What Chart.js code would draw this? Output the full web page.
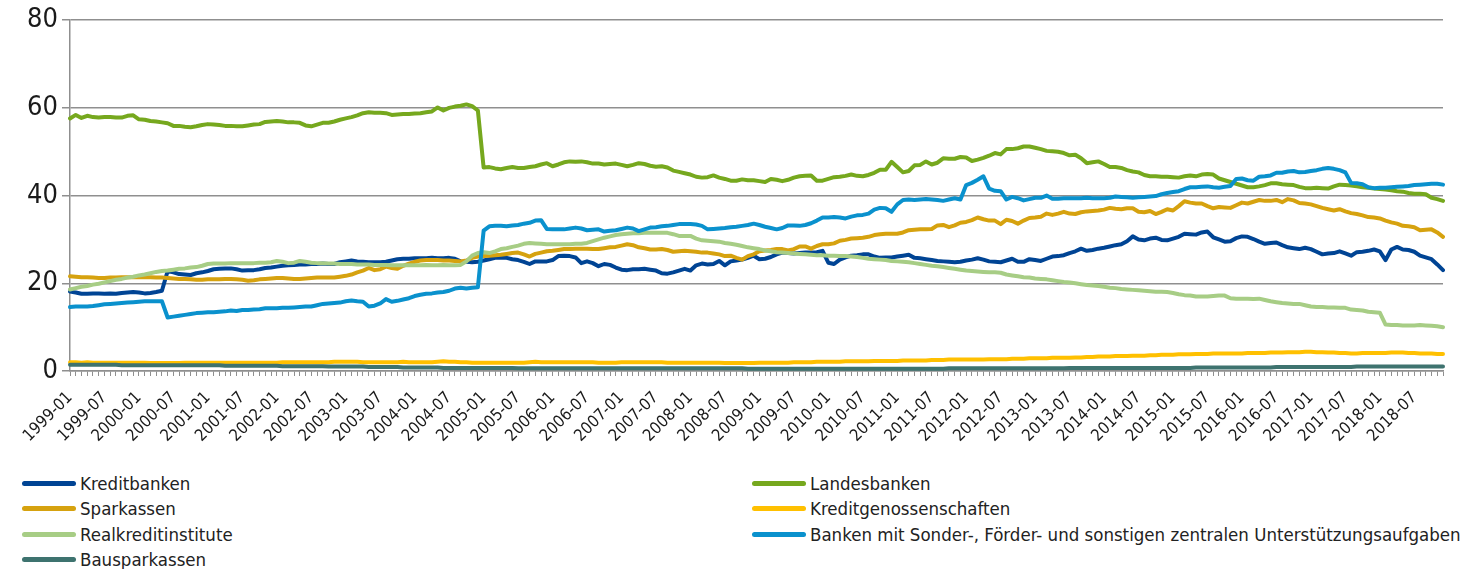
<!DOCTYPE html>
<html lang="de">
<head>
<meta charset="utf-8">
<title>Anteile nach Bankengruppen</title>
<script src="https://cdn.jsdelivr.net/npm/chart.js@4/dist/chart.umd.min.js"></script>
<style>
    html, body { margin: 0; padding: 0; background: #fff; }
    #wrap { position: relative; width: 1472px; height: 569px; }
    #chart { position: absolute; left: 0; top: 0; }
    .legend-item {
        position: absolute;
        display: flex;
        align-items: center;
        height: 24px;
        font-family: "DejaVu Sans Condensed", "Liberation Sans Narrow", "Roboto Condensed", "DejaVu Sans", sans-serif;
        font-size: 18.5px;
        color: #222;
        white-space: nowrap;
    }
    .legend-swatch {
        width: 54px;
        height: 5px;
        border-radius: 3px;
        margin-right: 4px;
    }
</style>
</head>
<body>
<div id="wrap">
    <canvas id="chart" width="1472" height="465"></canvas>
    <div id="legend"></div>
</div>
<script>
// Categories: monthly, 1999-01 .. 2018-12
const years = [1999, 2000, 2001, 2002, 2003, 2004, 2005, 2006, 2007, 2008,
               2009, 2010, 2011, 2012, 2013, 2014, 2015, 2016, 2017, 2018];
const monthNames = ['01', '02', '03', '04', '05', '06', '07', '08', '09', '10', '11', '12'];
const months = [];
years.forEach(y => monthNames.forEach(m => months.push(y + '-' + m)));

// Y axis ticks
const yTicks = [0, 20, 40, 60, 80];

// Series values (%), one row per year
const kreditbanken = [
    18.1,17.9,17.6,17.6,17.7,17.7,17.6,17.7,17.6,17.8,17.9,18.0,
    17.9,17.7,17.8,18.0,18.3,22.8,22.5,22.1,22.0,21.9,22.3,22.5,
    22.8,23.2,23.3,23.4,23.4,23.2,22.9,23.0,23.0,23.2,23.5,23.6,
    23.8,24.0,24.1,24.2,24.3,24.3,24.4,24.4,24.5,24.4,24.4,24.8,
    25.0,25.2,25.0,24.9,24.8,24.8,24.8,24.9,25.2,25.5,25.6,25.6,
    25.7,25.7,25.7,25.8,25.7,25.7,25.8,25.6,25.0,24.9,24.8,24.9,
    25.2,25.5,25.8,25.9,25.8,25.5,25.3,24.9,24.4,25.0,25.0,25.0,
    25.3,26.2,26.3,26.2,25.9,24.6,25.0,24.6,23.9,24.4,24.2,23.6,
    23.1,23.0,23.2,23.2,23.3,23.1,22.9,22.3,22.2,22.5,22.9,23.3,
    22.9,24.1,24.5,24.3,24.4,25.1,24.1,25.0,25.2,25.4,25.8,26.3,
    25.5,25.6,26.0,26.6,27.0,26.9,26.8,26.9,27.0,27.0,27.1,27.4,
    24.7,24.4,25.4,25.9,26.3,26.4,26.6,26.6,26.1,25.8,25.9,25.9,
    26.1,26.3,26.5,25.8,25.7,25.5,25.3,25.1,25.0,24.9,24.8,24.9,
    25.2,25.4,25.7,25.4,25.0,24.9,24.8,25.2,25.6,24.9,24.9,25.5,
    25.3,25.1,25.6,26.1,26.2,26.4,26.9,27.3,27.9,27.4,27.6,27.9,
    28.1,28.4,28.7,28.9,29.6,30.7,30.0,29.8,30.2,30.4,29.9,29.8,
    30.2,30.6,31.3,31.2,31.1,31.6,31.8,30.5,30.0,29.5,29.6,30.3,
    30.7,30.6,30.1,29.5,29.0,29.2,29.3,28.7,28.2,28.0,27.8,28.1,
    27.8,27.2,26.6,26.8,26.9,27.3,26.8,26.3,27.1,27.2,27.4,27.7,
    27.3,25.3,27.7,28.3,27.7,27.6,27.2,26.3,25.9,25.5,24.3,23.0
];

const landesbanken = [
    57.6,58.4,57.7,58.2,57.9,57.8,57.9,57.9,57.8,57.8,58.2,58.3,
    57.4,57.3,57.0,56.9,56.7,56.5,55.9,55.9,55.7,55.6,55.8,56.1,
    56.3,56.2,56.1,55.9,55.9,55.8,55.8,56.0,56.2,56.3,56.8,56.9,
    57.0,56.9,56.7,56.7,56.6,56.0,55.8,56.2,56.6,56.6,56.9,57.3,
    57.6,57.9,58.3,58.8,59.0,58.9,58.9,58.8,58.4,58.5,58.6,58.6,
    58.7,58.8,59.0,59.2,60.1,59.4,60.0,60.3,60.5,60.8,60.4,59.4,
    46.4,46.5,46.2,46.0,46.3,46.5,46.3,46.3,46.5,46.7,47.1,47.4,
    46.7,47.1,47.6,47.8,47.7,47.8,47.6,47.3,47.3,47.1,47.2,47.3,
    47.0,46.7,47.0,47.4,47.2,46.8,46.6,46.7,46.4,45.7,45.4,45.1,
    44.8,44.3,44.1,44.2,44.6,44.1,43.8,43.4,43.4,43.7,43.5,43.5,
    43.3,43.1,43.8,43.6,43.3,43.6,44.1,44.4,44.5,44.6,43.4,43.4,
    43.8,44.2,44.3,44.5,44.8,44.5,44.4,44.7,45.2,45.9,45.9,47.7,
    46.5,45.3,45.6,46.9,47.0,47.8,47.1,47.5,48.5,48.4,48.4,48.8,
    48.7,47.9,48.2,48.6,49.1,49.7,49.4,50.6,50.6,50.8,51.2,51.2,
    50.9,50.6,50.2,50.1,50.0,49.7,49.2,49.3,48.5,47.4,47.6,47.8,
    47.2,46.5,46.5,46.3,45.8,45.5,45.3,44.7,44.4,44.4,44.3,44.3,
    44.2,44.1,44.4,44.6,44.4,44.8,44.9,44.8,43.9,43.5,43.1,42.7,
    42.3,41.9,41.9,42.1,42.4,42.8,42.8,42.6,42.5,42.4,42.0,41.7,
    41.7,41.8,41.7,41.6,42.1,42.5,42.4,42.3,42.1,41.9,41.8,41.6,
    41.5,41.4,41.2,41.0,40.9,40.6,40.4,40.4,40.3,39.5,39.2,38.8
];

const sparkassen = [
    21.6,21.5,21.4,21.4,21.3,21.2,21.2,21.3,21.3,21.4,21.4,21.4,
    21.4,21.4,21.4,21.3,21.3,21.2,21.1,21.0,21.0,20.9,20.8,20.8,
    20.9,20.9,20.9,21.0,21.0,20.9,20.8,20.6,20.7,20.9,21.0,21.1,
    21.2,21.2,21.1,21.0,21.0,21.1,21.2,21.3,21.3,21.3,21.3,21.5,
    21.7,22.0,22.5,22.9,23.5,23.0,23.2,23.8,23.5,23.3,24.0,24.5,
    24.9,25.2,25.3,25.3,25.3,25.2,25.2,25.1,25.0,25.2,25.8,26.1,
    26.2,26.3,26.4,26.5,26.7,26.9,27.0,26.6,26.1,26.7,27.0,27.3,
    27.4,27.6,27.8,27.8,27.9,27.9,27.9,27.8,27.8,28.0,28.2,28.3,
    28.6,28.9,28.7,28.2,28.0,27.7,27.7,27.8,27.6,27.2,27.3,27.4,
    27.3,27.2,27.0,27.0,26.8,26.6,26.2,26.3,25.8,25.4,26.2,26.6,
    27.3,27.5,27.6,27.8,27.8,27.5,27.8,28.4,28.4,27.9,28.5,28.9,
    28.9,29.1,29.7,29.9,30.2,30.3,30.4,30.6,31.0,31.2,31.3,31.3,
    31.3,31.6,32.1,32.2,32.3,32.3,32.4,33.2,33.3,32.8,33.2,33.8,
    34.0,34.4,35.0,34.6,34.3,34.3,33.5,34.5,34.2,33.6,34.3,34.9,
    35.0,35.2,35.9,35.6,35.9,36.3,35.9,35.8,36.2,36.4,36.5,36.6,
    36.8,37.2,37.0,36.9,37.1,37.1,36.3,36.2,36.5,35.8,36.3,36.9,
    36.6,37.6,38.7,38.4,38.2,38.2,37.6,37.1,37.4,37.3,37.2,37.8,
    38.4,38.2,38.6,39.0,38.8,38.8,39.0,38.5,39.2,38.9,38.3,38.2,
    38.0,37.6,37.2,36.9,36.6,36.9,36.4,36.0,35.8,35.5,35.1,35.0,
    34.8,34.3,33.9,33.6,33.1,33.0,32.8,32.1,32.2,32.3,31.6,30.6
];

const kreditgenossenschaften = [
    2.0,2.0,1.9,2.0,1.9,1.9,1.9,1.9,1.9,1.9,1.9,1.9,
    1.9,1.9,1.8,1.8,1.8,1.8,1.8,1.8,1.9,1.9,1.9,1.9,
    1.9,1.9,1.9,1.9,1.9,1.9,1.9,1.9,1.9,1.9,1.9,1.9,
    1.9,2.0,2.0,2.0,2.0,2.0,2.0,2.0,2.0,2.0,2.1,2.1,
    2.1,2.1,2.1,2.0,2.0,2.0,2.0,2.0,2.0,2.0,2.1,2.0,
    2.0,2.0,2.0,2.0,2.1,2.2,2.1,2.1,2.0,2.0,1.9,1.9,
    1.9,1.9,1.9,1.9,1.9,1.9,1.9,1.9,2.0,2.1,2.0,2.0,
    2.0,2.0,2.0,2.0,2.0,2.0,2.0,2.0,1.9,1.9,1.9,1.9,
    2.0,2.0,2.0,2.0,2.0,2.0,2.0,2.0,1.9,1.9,1.9,1.9,
    1.9,1.9,1.9,1.9,1.9,1.9,1.8,1.8,1.8,1.8,1.8,1.8,
    1.9,1.9,1.9,1.9,1.9,1.9,2.0,2.0,2.0,2.0,2.1,2.1,
    2.1,2.1,2.1,2.2,2.2,2.2,2.2,2.2,2.3,2.3,2.3,2.3,
    2.3,2.4,2.4,2.4,2.4,2.4,2.5,2.5,2.5,2.6,2.6,2.6,
    2.6,2.6,2.6,2.6,2.7,2.7,2.7,2.7,2.8,2.8,2.8,2.9,
    2.9,2.9,2.9,3.0,3.0,3.0,3.0,3.1,3.1,3.2,3.2,3.3,
    3.3,3.3,3.4,3.4,3.4,3.5,3.5,3.5,3.6,3.6,3.7,3.7,
    3.7,3.8,3.8,3.8,3.9,3.9,3.9,4.0,4.0,4.0,4.0,4.0,
    4.0,4.1,4.1,4.1,4.1,4.2,4.2,4.2,4.3,4.3,4.3,4.4,
    4.4,4.3,4.3,4.2,4.2,4.1,4.1,4.0,4.0,4.1,4.1,4.1,
    4.1,4.1,4.2,4.2,4.2,4.1,4.1,4.0,4.0,4.0,3.9,3.9
];

const realkreditinstitute = [
    18.6,18.9,19.2,19.4,19.7,19.9,20.2,20.5,20.8,21.0,21.3,21.5,
    21.8,22.0,22.3,22.6,22.8,22.9,23.1,23.3,23.4,23.6,23.7,24.0,
    24.4,24.5,24.5,24.5,24.6,24.6,24.6,24.6,24.6,24.7,24.7,24.8,
    25.1,24.9,24.6,24.7,25.1,24.9,24.7,24.6,24.6,24.5,24.5,24.4,
    24.4,24.4,24.3,24.3,24.3,24.2,24.2,24.2,24.1,24.1,24.1,24.1,
    24.1,24.1,24.2,24.1,24.1,24.2,24.1,24.1,24.2,25.0,26.3,26.9,
    27.1,26.9,27.3,27.8,28.0,28.3,28.6,29.0,29.2,29.1,29.0,28.9,
    28.9,28.9,28.9,28.9,29.0,29.0,29.2,29.6,30.0,30.4,30.7,31.0,
    31.2,31.3,31.4,31.4,31.5,31.5,31.5,31.5,31.5,31.2,30.8,30.8,
    30.8,30.2,29.8,29.7,29.6,29.5,29.2,29.0,28.8,28.5,28.2,28.0,
    27.8,27.5,27.3,27.1,27.0,26.9,26.8,26.7,26.6,26.5,26.4,26.4,
    26.3,26.3,26.2,26.2,26.1,26.0,25.8,25.6,25.5,25.4,25.3,25.1,
    25.0,24.9,24.8,24.6,24.4,24.2,24.0,23.9,23.7,23.5,23.3,23.1,
    22.9,22.8,22.7,22.6,22.5,22.5,22.4,22.0,21.8,21.6,21.4,21.3,
    21.1,21.0,20.9,20.7,20.5,20.3,20.2,20.0,19.8,19.6,19.5,19.4,
    19.2,19.0,18.9,18.7,18.6,18.5,18.4,18.3,18.2,18.1,18.1,18.0,
    17.8,17.5,17.3,17.2,17.0,17.0,17.0,17.1,17.2,17.2,16.6,16.5,
    16.5,16.5,16.4,16.5,16.2,15.9,15.7,15.5,15.4,15.3,15.3,15.0,
    14.7,14.6,14.6,14.5,14.5,14.4,14.4,14.0,13.9,13.8,13.5,13.4,
    13.3,10.6,10.5,10.5,10.4,10.4,10.4,10.5,10.4,10.3,10.2,10.0
];

const sonderaufgaben = [
    14.6,14.7,14.7,14.7,14.8,15.0,15.2,15.3,15.4,15.5,15.6,15.7,
    15.8,15.9,15.9,15.9,15.9,12.2,12.4,12.6,12.8,13.0,13.2,13.3,
    13.4,13.4,13.5,13.6,13.8,13.7,13.9,13.9,14.0,14.1,14.3,14.3,
    14.3,14.4,14.4,14.5,14.6,14.7,14.7,15.0,15.3,15.4,15.5,15.6,
    15.9,16.1,15.9,15.8,14.7,14.9,15.4,16.4,15.8,16.0,16.3,16.6,
    17.1,17.4,17.6,17.7,17.9,18.0,18.3,18.8,19.0,18.8,19.0,19.1,
    32.0,33.0,33.1,33.1,33.0,33.2,33.3,33.6,33.8,34.3,34.4,32.4,
    32.3,32.3,32.3,32.5,32.7,32.5,32.1,32.2,32.3,31.8,32.0,32.1,
    32.4,32.7,32.5,31.9,32.3,32.7,32.8,33.0,33.1,33.3,33.5,33.5,
    33.5,33.4,33.1,32.3,32.4,32.5,32.6,32.8,32.9,33.1,33.3,33.6,
    33.3,32.9,32.6,32.3,32.6,33.2,33.2,33.1,33.3,33.7,34.3,35.0,
    35.0,35.1,35.0,34.8,35.2,35.5,35.6,35.9,36.8,37.2,37.1,36.3,
    38.0,39.0,39.1,39.0,39.1,39.2,39.1,39.0,38.8,39.1,39.4,39.1,
    42.4,42.9,43.6,44.4,41.6,41.1,41.0,39.1,39.7,39.4,38.9,39.2,
    39.5,39.5,40.0,39.3,39.3,39.4,39.4,39.4,39.4,39.5,39.4,39.4,
    39.4,39.5,39.8,39.7,39.6,39.5,39.6,39.7,39.8,39.9,40.3,40.6,
    40.8,41.0,41.5,41.9,41.9,42.0,42.1,41.9,41.8,42.0,42.2,43.8,
    43.9,43.5,43.4,44.3,44.4,44.6,45.2,45.2,45.5,45.6,45.3,45.4,
    45.6,45.8,46.1,46.3,46.1,45.8,45.3,42.9,42.8,42.6,41.9,41.7,
    41.8,41.8,41.9,42.0,42.1,42.2,42.4,42.5,42.6,42.7,42.7,42.5
];

const bausparkassen = [
    1.4,1.4,1.4,1.4,1.4,1.4,1.4,1.4,1.4,1.3,1.3,1.3,
    1.3,1.3,1.3,1.3,1.3,1.3,1.3,1.3,1.3,1.3,1.3,1.3,
    1.3,1.3,1.3,1.2,1.2,1.2,1.2,1.2,1.2,1.2,1.2,1.2,
    1.2,1.1,1.1,1.1,1.1,1.1,1.1,1.1,1.1,1.0,1.0,1.0,
    1.0,1.0,1.0,1.0,0.9,0.9,0.9,0.9,0.9,0.9,0.8,0.8,
    0.8,0.8,0.8,0.8,0.8,0.7,0.7,0.7,0.7,0.7,0.7,0.7,
    0.7,0.7,0.7,0.7,0.7,0.7,0.6,0.6,0.6,0.6,0.6,0.6,
    0.6,0.6,0.6,0.6,0.6,0.6,0.6,0.6,0.6,0.6,0.6,0.6,
    0.6,0.6,0.6,0.6,0.6,0.6,0.6,0.6,0.6,0.6,0.6,0.6,
    0.6,0.6,0.6,0.6,0.6,0.6,0.6,0.6,0.6,0.6,0.5,0.5,
    0.5,0.5,0.5,0.5,0.5,0.5,0.5,0.5,0.5,0.5,0.5,0.5,
    0.5,0.5,0.5,0.5,0.5,0.5,0.5,0.5,0.5,0.5,0.5,0.5,
    0.5,0.5,0.5,0.5,0.5,0.5,0.5,0.5,0.5,0.6,0.6,0.6,
    0.6,0.6,0.6,0.6,0.6,0.6,0.6,0.6,0.6,0.6,0.6,0.6,
    0.6,0.6,0.6,0.6,0.6,0.6,0.7,0.7,0.7,0.7,0.7,0.7,
    0.7,0.7,0.7,0.7,0.7,0.7,0.7,0.7,0.7,0.7,0.7,0.7,
    0.7,0.7,0.7,0.7,0.8,0.8,0.8,0.8,0.8,0.8,0.8,0.8,
    0.8,0.8,0.8,0.8,0.8,0.8,0.9,0.9,0.9,0.9,0.9,0.9,
    0.9,0.9,0.9,0.9,0.9,0.9,0.9,0.9,1.0,1.0,1.0,1.0,
    1.0,1.0,1.0,1.0,1.0,1.0,1.0,1.0,1.0,1.0,1.0,1.0
];

const FONT = '"DejaVu Sans Condensed", "Liberation Sans Narrow", "Roboto Condensed", "DejaVu Sans", sans-serif';

// Series in legend order (Excel draws later series on top)
const series = [
    { label: 'Kreditbanken', data: kreditbanken, color: '#004494' },
    { label: 'Landesbanken', data: landesbanken, color: '#76a81e' },
    { label: 'Sparkassen', data: sparkassen, color: '#d6a20f' },
    { label: 'Kreditgenossenschaften', data: kreditgenossenschaften, color: '#ffc000' },
    { label: 'Realkreditinstitute', data: realkreditinstitute, color: '#a7cd85' },
    { label: 'Banken mit Sonder-, Förder- und sonstigen zentralen Unterstützungsaufgaben', data: sonderaufgaben, color: '#0a91cd' },
    { label: 'Bausparkassen', data: bausparkassen, color: '#3e736f' }
];

const ctx = document.getElementById('chart').getContext('2d');
const chart = new Chart(ctx, {
    type: 'line',
    data: {
        labels: months,
        datasets: series.map((s, i) => ({
            label: s.label,
            data: s.data,
            borderColor: s.color,
            backgroundColor: s.color,
            borderWidth: 4,
            pointRadius: 0,
            tension: 0,
            borderJoinStyle: 'round',
            borderCapStyle: 'round',
            order: series.length - i
        }))
    },
    options: {
        responsive: false,
        animation: false,
        layout: { padding: { left: 0, right: 29, top: 18, bottom: 0 } },
        plugins: {
            legend: { display: false },
            tooltip: { enabled: false }
        },
        scales: {
            x: {
                offset: false,
                afterFit: scale => { scale.height = 94; },
                grid: {
                    drawOnChartArea: false,
                    drawTicks: true,
                    tickLength: 5,
                    color: '#8f8f8f',
                    lineWidth: 1
                },
                border: { display: true, color: '#8f8f8f', width: 1.5 },
                ticks: {
                    autoSkip: false,
                    maxRotation: 45,
                    minRotation: 45,
                    padding: 12,
                    color: '#1a1a1a',
                    font: { family: FONT, size: 16.5 },
                    callback: (value, index) => index % 6 === 0 ? months[index] : ''
                }
            },
            y: {
                min: 0,
                max: 80,
                afterFit: scale => { scale.width = 70; },
                afterBuildTicks: scale => { scale.ticks = yTicks.map(v => ({ value: v })); },
                grid: {
                    color: '#8f8f8f',
                    lineWidth: 1.5,
                    tickLength: 8
                },
                border: { display: true, color: '#8f8f8f', width: 1.5 },
                ticks: {
                    padding: 4,
                    color: '#1a1a1a',
                    font: { family: FONT, size: 27 }
                }
            }
        }
    }
});

// Two-column legend below the chart
const legend = document.getElementById('legend');
const colX = [22, 752];
const rowY = [471, 496, 522, 547];
series.forEach((s, i) => {
    const item = document.createElement('div');
    item.className = 'legend-item';
    item.style.left = colX[i % 2] + 'px';
    item.style.top = rowY[Math.floor(i / 2)] + 'px';
    item.innerHTML = `<span class="legend-swatch" style="background:${s.color}"></span><span>${s.label}</span>`;
    legend.appendChild(item);
});
</script>
</body>
</html>
